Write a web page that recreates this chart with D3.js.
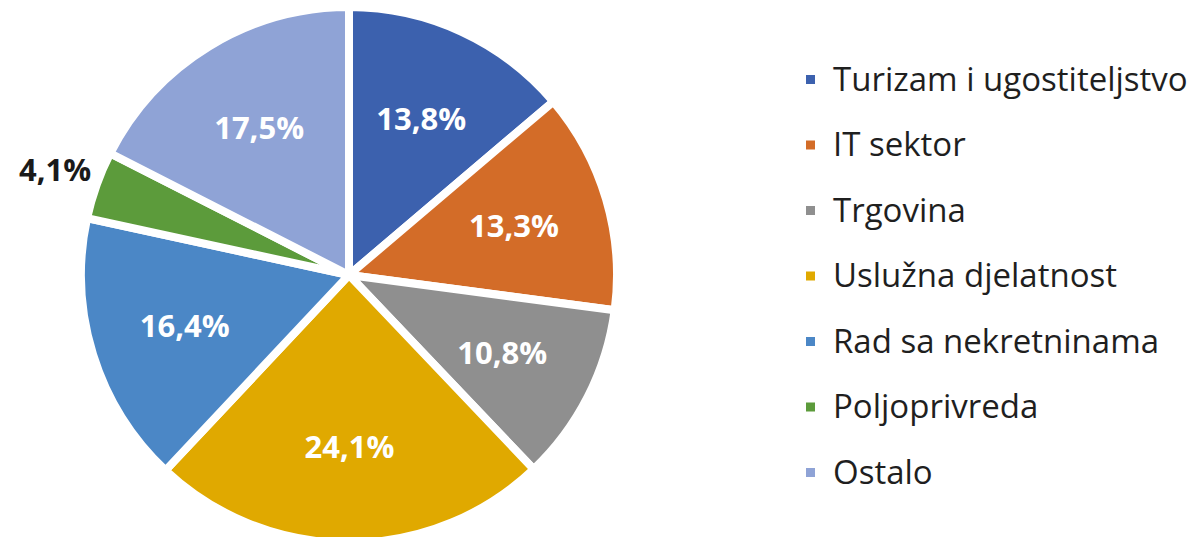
<!DOCTYPE html>
<html>
<head>
<meta charset="utf-8">
<script src="https://cdn.jsdelivr.net/npm/d3@7"></script>
<style>
  body { margin: 0; background: #fff; }
  svg { display: block; font-family: "Open Sans", sans-serif; }
</style>
</head>
<body>
<div id="chart"></div>
<script>
const categories = ["Turizam i ugostiteljstvo", "IT sektor", "Trgovina", "Uslužna djelatnost",
                    "Rad sa nekretninama", "Poljoprivreda", "Ostalo"];
const values = [13.8, 13.3, 10.8, 24.1, 16.4, 4.1, 17.5];
const colors = ["#3c61ae", "#d36c28", "#8f8f8f", "#e0a900", "#4b87c6", "#5c9b3b", "#8fa3d6"];

const width = 1199, height = 537;
const cx = 349, cy = 275, radius = 268;

const svg = d3.select("#chart")
  .append("svg")
    .attr("width", width)
    .attr("height", height);

const data = categories.map((c, i) => ({ name: c, value: values[i], color: colors[i] }));

const pie = d3.pie()
  .sort(null)
  .value(d => d.value);

const arc = d3.arc()
  .innerRadius(0)
  .outerRadius(radius);

const labelArc = d3.arc()
  .innerRadius(172)
  .outerRadius(172);

const outerLabelArc = d3.arc()
  .innerRadius(312)
  .outerRadius(312);

const g = svg.append("g")
  .attr("transform", `translate(${cx},${cy})`);

const arcs = pie(data);

g.selectAll("path")
  .data(arcs)
  .join("path")
  .attr("d", arc)
  .attr("fill", d => d.data.color)
  .attr("stroke", "#fff")
  .attr("stroke-width", 8)
  .attr("stroke-linejoin", "miter");

// small slices get their label outside
g.selectAll("text.lbl")
  .data(arcs)
  .join("text")
  .attr("class", "lbl")
  .attr("transform", d => {
    const small = d.data.value < 5;
    const [x, y] = (small ? outerLabelArc : labelArc).centroid(d);
    return `translate(${x},${y})`;
  })
  .attr("text-anchor", "middle")
  .attr("dy", "0.35em")
  .attr("font-size", 31)
  .attr("font-weight", "bold")
  .attr("fill", d => d.data.value < 5 ? "#1a1a1a" : "#fff")
  .text(d => d.data.value.toFixed(1).replace(".", ",") + "%");

// legend
const legend = svg.append("g")
  .attr("transform", "translate(806,79)");

const item = legend.selectAll("g")
  .data(data)
  .join("g")
  .attr("transform", (d, i) => `translate(0,${i * 65.5})`);

item.append("rect")
  .attr("x", 0)
  .attr("y", -4)
  .attr("width", 9)
  .attr("height", 9)
  .attr("fill", d => d.color);

item.append("text")
  .attr("x", 27)
  .attr("dy", "0.35em")
  .attr("font-size", 33)
  .attr("fill", "#1f1f1f")
  .text(d => d.name);
</script>
</body>
</html>
